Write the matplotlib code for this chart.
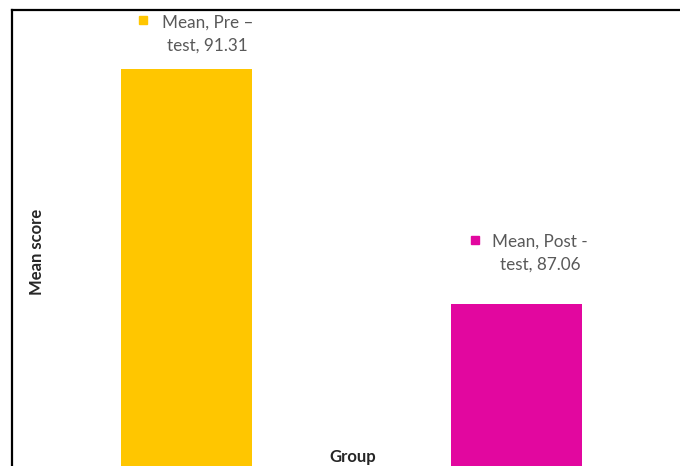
import matplotlib
matplotlib.use("Agg")
import matplotlib.pyplot as plt

# Group means
categories = ["Mean, Pre -test", "Mean, Post -test"]
series_names = ["Mean, Pre \u2013\ntest", "Mean, Post -\ntest"]
values = [91.31, 87.06]
colors = ["#FFC600", "#E2079F"]

W, H = 680, 466
fig = plt.figure(figsize=(W / 100, H / 100), dpi=100)
ax = fig.add_axes([12 / W, 0, 1 - 12 / W, (H - 10) / H])

x = [0, 1]
ax.bar(x, values, width=0.397, color=colors, zorder=2)

ax.set_xlim(-0.529, 1.4955)
ax.set_ylim(84.13, 92.377)

for s in ["right", "bottom"]:
    ax.spines[s].set_visible(False)
for s in ["left", "top"]:
    ax.spines[s].set_linewidth(1.6)
    ax.spines[s].set_color("black")
ax.set_xticks([])
ax.set_yticks([])

# data labels with legend-key squares
label_pos = [(0.064, 91.94), (1.071, 87.98)]
key_pos = [(-0.132, 92.20), (0.874, 88.226)]
for (lx, ly), name, val in zip(label_pos, series_names, values):
    ax.text(lx, ly, f"{name}, {val:.2f}", ha="center", va="center",
            fontsize=12.3, family="Lato", color="#595959", linespacing=1.55)
for (kx, ky), c in zip(key_pos, colors):
    ax.plot(kx, ky, marker="s", markersize=5.5, color=c,
            linestyle="none", clip_on=False)

fig.text(37 / W, 1 - 252 / H, "Mean score", rotation=90, ha="center",
         va="center", fontsize=12, fontweight="bold", family="Lato",
         color="#262626")
fig.text(353 / W, 1 - 457 / H, "Group", ha="center", va="center",
         fontsize=12, fontweight="bold", family="Lato", color="#262626")

fig.savefig("out.png", dpi=100)
